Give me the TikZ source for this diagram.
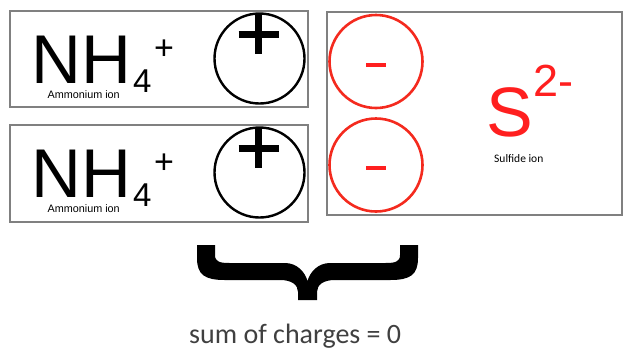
\documentclass[tikz,border=0pt]{standalone}
\usepackage{fontspec}
\newfontfamily\arial{Liberation Sans}
\newfontfamily\calibri{Carlito}
\definecolor{boxgray}{HTML}{808080}
\definecolor{ionred}{HTML}{FF1F1F}
\definecolor{circred}{HTML}{F42A1E}
\definecolor{sumgray}{HTML}{404040}
\begin{document}
\begin{tikzpicture}[x=1pt,y=-1pt,
  ionbox/.style={draw=boxgray, line width=1.3pt, rectangle, inner sep=0pt},
  poscirc/.style={draw=black, line width=2.4pt, circle, inner sep=0pt, minimum size=90pt},
  negcirc/.style={draw=circred, line width=2.6pt, circle, inner sep=0pt, minimum size=93pt},
  bar/.style={line width=7pt},
  minusbar/.style={draw=ionred, line width=4.2pt},
  big/.style={inner sep=0pt, anchor=base west, text depth=0pt, font=\arial\fontsize{69}{80}\selectfont},
  sub/.style={inner sep=0pt, anchor=base west, text depth=0pt, font=\arial\fontsize{33}{40}\selectfont},
  sup/.style={inner sep=0pt, anchor=center, font=\arial\fontsize{34}{40}\selectfont},
  small/.style={inner sep=0pt, anchor=base west, text height=7.8pt, text depth=0pt, font=\arial\fontsize{10.8}{13}\selectfont},
  lbl/.style={inner sep=0pt, anchor=base west, font=\calibri\fontsize{11.5}{14}\selectfont}
]
\useasboundingbox (0,0) rectangle (623,349);

% boxes
\node[ionbox, minimum width=298pt, minimum height=96pt] (box1) at (159,59) {};
\node[ionbox, minimum width=298pt, minimum height=97pt] (box2) at (159,173.5) {};
\node[ionbox, minimum width=295pt, minimum height=203pt] (box3) at (474.5,113.5) {};

% ammonium 1
\node[big] (nh1) at (31,83) {NH};
\node[sub] (four1) at (133,92) {4};
\node[sup] (plus1) at (164,50) {+};
\node[small] (am1) at (47.5,98.5) {Ammonium ion};
\node[poscirc] (pc1) at (259.5,58.5) {};
\draw[bar] ([xshift=-21pt,yshift=24.5pt]pc1.center) -- ([xshift=19pt,yshift=24.5pt]pc1.center);
\draw[bar] ([xshift=-1pt,yshift=45.5pt]pc1.center) -- ([xshift=-1pt,yshift=4.5pt]pc1.center);

% ammonium 2
\node[big] (nh2) at (31,197) {NH};
\node[sub] (four2) at (133,206) {4};
\node[sup] (plus2) at (164,164) {+};
\node[small] (am2) at (47.5,212.5) {Ammonium ion};
\node[poscirc] (pc2) at (259.5,172.5) {};
\draw[bar] ([xshift=-21pt,yshift=24.5pt]pc2.center) -- ([xshift=19pt,yshift=24.5pt]pc2.center);
\draw[bar] ([xshift=-1pt,yshift=45.5pt]pc2.center) -- ([xshift=-1pt,yshift=4.5pt]pc2.center);

% sulfide
\node[negcirc] (nc1) at (376,61.5) {};
\node[negcirc] (nc2) at (376,165) {};
\draw[minusbar] ([xshift=-10pt,yshift=-3.5pt]nc1.center) -- ([xshift=10pt,yshift=-3.5pt]nc1.center);
\draw[minusbar] ([xshift=-10pt,yshift=-3pt]nc2.center) -- ([xshift=10pt,yshift=-3pt]nc2.center);
\node[big, text=ionred, font=\arial\fontsize{70}{80}\selectfont] (s) at (486,136) {S};
\node[big, text=ionred, font=\arial\fontsize{45}{54}\selectfont] (charge) at (533.5,96) {2-};
\node[lbl] (sl) at (494,162) {Sulfide ion};

% brace
\fill[black] (197,245) -- (197,258) .. controls (197,275) and (205,280) .. (225,280)
  -- (280,280) .. controls (292,280) and (298,285) .. (298,292) -- (298,300)
  -- (317,300) -- (317,292) .. controls (317,285) and (323,280) .. (335,280)
  -- (390,280) .. controls (410,280) and (418,275) .. (418,258) -- (418,245)
  -- (400,245) -- (400,255) .. controls (400,262) and (395,263) .. (385,263)
  -- (330,263) .. controls (318,263) and (310,272) .. (307.5,281)
  .. controls (305,272) and (297,263) .. (285,263)
  -- (230,263) .. controls (220,263) and (215,262) .. (215,255) -- (215,245) -- cycle;

\node[inner sep=0pt, anchor=base west, text=sumgray, font=\calibri\fontsize{28}{34}\selectfont] (sum) at (189,343) {sum of charges = 0};
\end{tikzpicture}
\end{document}
